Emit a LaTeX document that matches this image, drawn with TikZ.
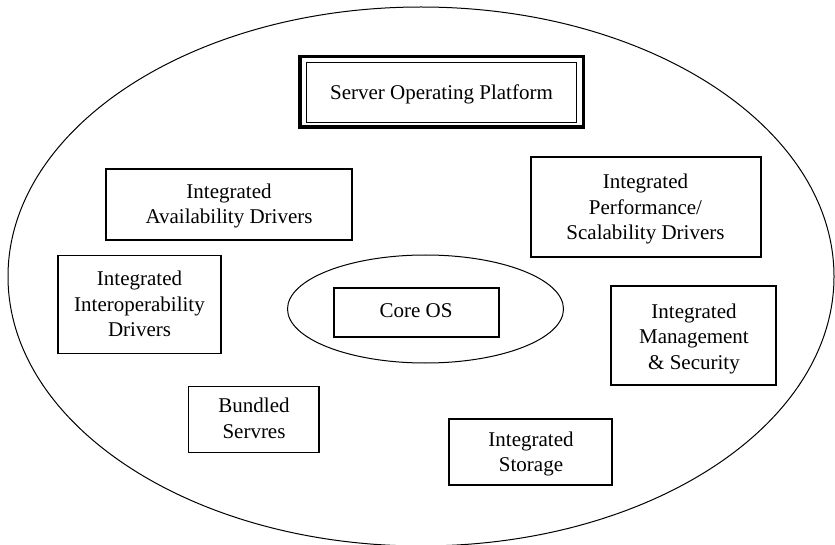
\documentclass[tikz,border=0pt]{standalone}
\usepackage{fontspec}
\setmainfont{Liberation Serif}
\usetikzlibrary{shapes.geometric}
\newcommand{\ls}{\strut}
\begin{document}
\begin{tikzpicture}[x=1pt,y=-1pt,
  txt/.style={font=\fontsize{21}{25.5}\selectfont, align=center, inner sep=0pt},
  box/.style={draw, line width=1.2pt, inner sep=0pt},
  oval/.style={draw, ellipse, line width=1pt, inner sep=0pt}]
\useasboundingbox (0,0) rectangle (835,545);
\clip (0,0) rectangle (835,545);
% outer ellipse
\node[oval, minimum width=826, minimum height=539] (world) at (421,276.5) {};
% title double box
\node[draw, line width=3.5pt, minimum width=283.5, minimum height=70.5, inner sep=0pt] (sopout) at (441.5,92) {};
\node[box, line width=1pt, minimum width=270, minimum height=60] (sop) at (441,93) {};
\node[txt] (sopt) at (441.5,94) {\ls Server Operating Platform};
% boxes
\node[box, minimum width=246, minimum height=71] (avail) at (229,204.5) {};
\node[txt] (availt) at (229,206) {\ls Integrated\\\ls Availability Drivers};
\node[box, minimum width=230, minimum height=100] (perf) at (646,207) {};
\node[txt] (perft) at (645.5,209) {\ls Integrated\\\ls Performance/\\\ls Scalability Drivers};
\node[box, minimum width=163, minimum height=98.5] (inter) at (139.5,304.5) {};
\node[txt] (intert) at (139.5,306) {\ls Integrated\\\ls Interoperability\\\ls Drivers};
\node[oval, minimum width=276, minimum height=108] (coreoval) at (425.5,309) {};
\node[box, minimum width=165, minimum height=49] (core) at (416.5,312.5) {};
\node[txt] (coret) at (416,312.5) {\ls Core OS};
\node[box, minimum width=165, minimum height=99] (mgmt) at (693.5,335.5) {};
\node[txt] (mgmtt) at (694,338.5) {\ls Integrated\\\ls Management\\\ls \& Security};
\node[box, minimum width=130.5, minimum height=66] (bund) at (253.75,419.5) {};
\node[txt] (bundt) at (254,420.5) {\ls Bundled\\\ls Servres};
\node[box, minimum width=163, minimum height=66] (stor) at (530.5,452) {};
\node[txt] (stort) at (531,454) {\ls Integrated\\\ls Storage};
\end{tikzpicture}
\end{document}
